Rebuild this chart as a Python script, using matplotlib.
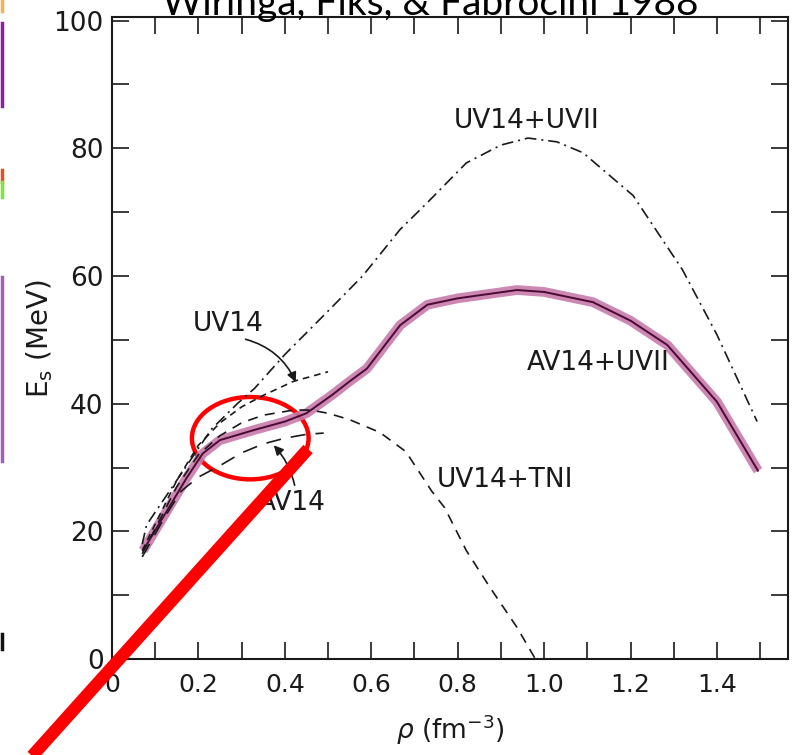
import numpy as np
import matplotlib.pyplot as plt
from matplotlib.patches import Ellipse
from matplotlib.lines import Line2D

# Datos (rho en fm^-3, E_s en MeV)
rho_av14_uvii = [0.072, 0.127, 0.173, 0.21, 0.25, 0.33, 0.40, 0.45, 0.51, 0.55, 0.59,
                 0.667, 0.73, 0.80, 0.937, 1.0, 1.113, 1.2, 1.285, 1.4, 1.495]
es_av14_uvii = [17, 23.2, 28.4, 32.2, 34.3, 35.9, 37.2, 38.5, 41.4, 43.5, 45.5,
                52.3, 55.5, 56.5, 57.8, 57.5, 55.9, 53, 49.2, 40.3, 29.5]

rho_uv14_uvii = [0.07, 0.08, 0.17, 0.23, 0.29, 0.33, 0.40, 0.50, 0.58, 0.667, 0.73,
                 0.82, 0.90, 0.963, 1.03, 1.09, 1.206, 1.32, 1.40, 1.493]
es_uv14_uvii = [18, 21, 30, 36, 40, 42.4, 47.7, 54.5, 60, 67.3, 71.5,
                77.7, 80.5, 81.6, 81, 79.3, 72.6, 61, 50.8, 37.2]

rho_uv14_tni = [0.07, 0.15, 0.2, 0.25, 0.3, 0.35, 0.42, 0.46, 0.5, 0.55, 0.62,
                0.68, 0.74, 0.77, 0.82, 0.875, 0.937, 0.98]
es_uv14_tni = [16.5, 27, 32, 35, 37, 38.2, 39, 39, 38.5, 37.5, 35.5,
               32.5, 26.3, 23.7, 17, 11.2, 5, 0]

rho_uv14 = [0.07, 0.15, 0.2, 0.25, 0.3, 0.35, 0.42, 0.5]
es_uv14 = [17, 28, 33.5, 37, 39.5, 41.3, 43.5, 45]

rho_av14 = [0.07, 0.12, 0.16, 0.2, 0.25, 0.3, 0.35, 0.4, 0.45, 0.49]
es_av14 = [16, 22, 26.3, 28.5, 30.3, 32.3, 33.7, 34.6, 35.2, 35.4]

x_ticks = [0, 0.2, 0.4, 0.6, 0.8, 1.0, 1.2, 1.4]
x_labels = ['0', '0.2', '0.4', '0.6', '0.8', '1.0', '1.2', '1.4']
y_ticks = [0, 20, 40, 60, 80, 100]

fig = plt.figure(figsize=(7.97, 7.55), dpi=100)
ax = fig.add_axes([0.1405, 0.127, 0.8485, 0.85])

ink = '#1a1a1a'
# curva resaltada en morado
ax.plot(rho_av14_uvii, es_av14_uvii, color='#c77aab', lw=7, solid_capstyle='butt', alpha=0.9)
ax.plot(rho_av14_uvii, es_av14_uvii, color='#4a0a33', lw=1.4)

ax.plot(rho_uv14_uvii, es_uv14_uvii, color=ink, lw=1.2, ls=(0, (7, 3, 1.2, 3)))
ax.plot(rho_uv14_tni, es_uv14_tni, color=ink, lw=1.2, ls=(0, (6, 4.5)))
ax.plot(rho_uv14, es_uv14, color=ink, lw=1.2, ls=(0, (4, 3)))
ax.plot(rho_av14, es_av14, color=ink, lw=1.2, ls=(0, (9, 6)))

lab = dict(fontsize=19, color=ink, ha='center', va='center')
ax.text(0.96, 84.3, 'UV14+UVII', **lab)
ax.text(0.269, 52.5, 'UV14', **lab)
ax.text(1.125, 46.3, 'AV14+UVII', **lab)
ax.text(0.91, 28, 'UV14+TNI', **lab)
ax.text(0.416, 24.5, 'AV14', **lab)

ax.annotate('', xy=(0.428, 43.0), xytext=(0.303, 50.2),
            arrowprops=dict(arrowstyle='-|>', color=ink, lw=1.2,
                            connectionstyle='arc3,rad=-0.25', mutation_scale=14))
ax.annotate('', xy=(0.37, 33.8), xytext=(0.424, 26.8),
            arrowprops=dict(arrowstyle='-|>', color=ink, lw=1.2,
                            connectionstyle='arc3,rad=0.15', mutation_scale=14))

ax.set_xlim(0, 1.565)
ax.set_ylim(0, 100.5)
ax.set_xticks(x_ticks)
ax.set_xticklabels(x_labels)
ax.set_xticks(np.arange(0.1, 1.55, 0.1), minor=True)
ax.set_yticks(y_ticks)
ax.set_yticks(np.arange(10, 100, 10), minor=True)
ax.tick_params(which='both', direction='in', top=True, right=True,
               length=12, width=1.2, color=ink)
ax.tick_params(axis='x', labelsize=18, pad=10, labelcolor=ink)
ax.tick_params(axis='y', labelsize=19, pad=6, labelcolor=ink)
for s in ax.spines.values():
    s.set_linewidth(1.5)
    s.set_color(ink)

ax.set_xlabel(r'$\rho$ (fm$^{-3}$)', fontsize=19, color=ink, labelpad=11)
ax.set_ylabel(r'E$_\mathregular{s}$ (MeV)', fontsize=20, color=ink, labelpad=-1)

# anotación roja
ax.add_patch(Ellipse((0.32, 34.6), 0.27, 12.9, fill=False, ec='#ff0000', lw=3.2, clip_on=False))
fig.add_artist(Line2D([0.3865, 0.033], [0.4053, -0.01], transform=fig.transFigure,
                      color='#ff0000', lw=9, solid_capstyle='butt'))

fig.text(0.54, 1 - 15 / 755, 'Wiringa, Fiks, & Fabrocini 1988', fontsize=28,
         family='Lato', ha='center', va='baseline', color='black')

# restos de la diapositiva en el borde izquierdo
edge = [((1.0, 0.985), '#f2b24e'), ((0.97, 0.86), '#8a1fa0'),
        ((0.775, 0.759), '#e3531d'), ((0.759, 0.739), '#7be83a'),
        ((0.633, 0.39), '#a060b8'), ((0.16, 0.14), '#111111')]
for (y0, y1), c in edge:
    fig.add_artist(Line2D([0.002, 0.002], [y0, y1], transform=fig.transFigure, color=c, lw=2.5))

fig.savefig('out.png', dpi=100)
